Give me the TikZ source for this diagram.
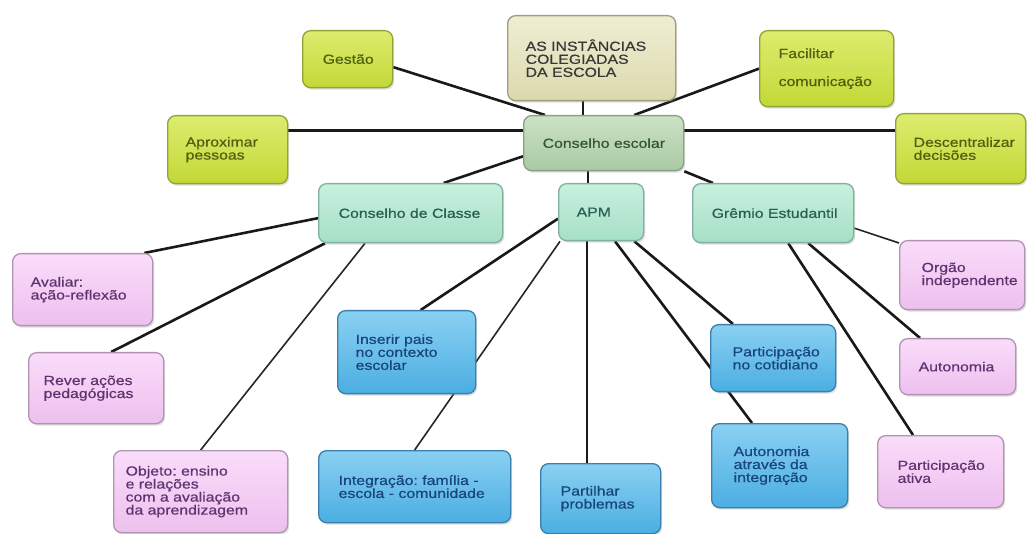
\documentclass[tikz,border=0pt]{standalone}
\usepackage{fontspec}
\setmainfont[FakeStretch=1.2,FakeBold=0.6]{Liberation Sans}
\usetikzlibrary{shadows}
\definecolor{beigeT}{HTML}{EFEED3}
\definecolor{beigeB}{HTML}{DCD9AE}
\definecolor{beigeD}{HTML}{A09E82}
\definecolor{beigeX}{HTML}{383838}
\definecolor{sageT}{HTML}{CCE2C4}
\definecolor{sageB}{HTML}{A9C9A3}
\definecolor{sageD}{HTML}{86A383}
\definecolor{sageX}{HTML}{355535}
\definecolor{limeT}{HTML}{DDEC6E}
\definecolor{limeB}{HTML}{C2D836}
\definecolor{limeD}{HTML}{93A436}
\definecolor{limeX}{HTML}{505F10}
\definecolor{mintT}{HTML}{C8F0DF}
\definecolor{mintB}{HTML}{A6DFC6}
\definecolor{mintD}{HTML}{80B09F}
\definecolor{mintX}{HTML}{285F50}
\definecolor{pinkT}{HTML}{FADCFA}
\definecolor{pinkB}{HTML}{EDC0EE}
\definecolor{pinkD}{HTML}{B094B1}
\definecolor{pinkX}{HTML}{5F3370}
\definecolor{blueT}{HTML}{8AD0F2}
\definecolor{blueB}{HTML}{4BAEE2}
\definecolor{blueD}{HTML}{3A7FAE}
\definecolor{blueX}{HTML}{18457A}
\pgfdeclarelayer{background}
\pgfsetlayers{background,main}
\tikzset{
  box/.style={draw, rounded corners=8pt, line width=1.3pt, anchor=north west,
    align=left, inner ysep=0pt, font=\fontsize{13.2}{13}\selectfont\frenchspacing,
    drop shadow={shadow xshift=1.5pt, shadow yshift=-2pt, opacity=0.25}},
  beigebox/.style={box, top color=beigeT, bottom color=beigeB, draw=beigeD, text=beigeX},
  sagebox/.style={box, top color=sageT, bottom color=sageB, draw=sageD, text=sageX},
  limebox/.style={box, top color=limeT, bottom color=limeB, draw=limeD, text=limeX},
  mintbox/.style={box, top color=mintT, bottom color=mintB, draw=mintD, text=mintX},
  pinkbox/.style={box, top color=pinkT, bottom color=pinkB, draw=pinkD, text=pinkX},
  bluebox/.style={box, top color=blueT, bottom color=blueB, draw=blueD, text=blueX},
  conn/.style={draw=black!90, line width=2.6pt},
  thinconn/.style={draw=black!85, line width=1.6pt}
}
\begin{document}
\begin{tikzpicture}[x=1pt,y=-1pt]
\useasboundingbox (0,0) rectangle (1028,534);
% nodes
\node[beigebox, inner xsep=18pt, text width=132pt, minimum height=85pt] (inst) at (507,15) {\mbox{AS INSTÂNCIAS}\\COLEGIADAS\\\mbox{DA ESCOLA}};
\node[sagebox, inner xsep=19pt, text width=122pt, minimum height=55pt] (ce) at (523,115) {\mbox{Conselho escolar}};
\node[limebox, inner xsep=20pt, text width=50pt, minimum height=57pt] (gestao) at (302,30) {\mbox{Gestão}};
\node[limebox, inner xsep=18pt, text width=84pt, minimum height=68pt] (aprox) at (167,115) {Aproximar\\pessoas};
\node[limebox, inner xsep=19pt, text width=96pt, minimum height=76pt] (facil) at (759,30) {Facilitar\\[15pt]\mbox{comunicação}};
\node[limebox, inner xsep=18pt, text width=94pt, minimum height=70pt] (desc) at (895,113) {\mbox{Descentralizar}\\decisões};
\node[mintbox, inner xsep=20pt, text width=144pt, minimum height=59pt] (cc) at (318,183) {\mbox{Conselho de Classe}};
\node[mintbox, inner xsep=18pt, text width=49pt, minimum height=57pt] (apm) at (558,183) {APM};
\node[mintbox, inner xsep=19pt, text width=123pt, minimum height=59pt] (grem) at (692,183) {\mbox{Grêmio Estudantil}};
\node[pinkbox, inner xsep=18pt, text width=104pt, minimum height=72pt] (aval) at (12,253) {Avaliar:\\\mbox{ação-reflexão}};
\node[pinkbox, inner xsep=15pt, text width=105pt, minimum height=71pt] (rever) at (28,352) {\mbox{Rever ações}\\\mbox{pedagógicas}};
\node[pinkbox, inner xsep=12pt, text width=150pt, minimum height=82pt] (obj) at (113,450) {\mbox{Objeto: ensino}\\\mbox{e relações}\\\mbox{com a avaliação}\\\mbox{da aprendizagem}};
\node[bluebox, inner xsep=18pt, text width=102pt, minimum height=83pt] (inserir) at (337,310) {\mbox{Inserir pais}\\\mbox{no contexto}\\escolar};
\node[bluebox, inner xsep=20pt, text width=152pt, minimum height=72pt] (integ) at (318,450) {\mbox{Integração: família -}\\\mbox{escola - comunidade}};
\node[bluebox, inner xsep=20pt, text width=80pt, minimum height=70pt] (part) at (540,463) {Partilhar\\problemas};
\node[bluebox, inner xsep=22pt, text width=81pt, minimum height=67pt] (pcot) at (710,324) {\mbox{Participação}\\\mbox{no cotidiano}};
\node[bluebox, inner xsep=22pt, text width=92pt, minimum height=84pt] (autint) at (711,423) {Autonomia\\\mbox{através da}\\integração};
\node[pinkbox, inner xsep=22pt, text width=81pt, minimum height=69pt] (org) at (899,240) {Orgão\\\mbox{independente}};
\node[pinkbox, inner xsep=19pt, text width=78pt, minimum height=56pt] (auto) at (899,338) {Autonomia};
\node[pinkbox, inner xsep=20pt, text width=86pt, minimum height=72pt] (pativa) at (877,435) {\mbox{Participação}\\ativa};
% connectors
\begin{pgfonlayer}{background}
\fill[white] (0,0) rectangle (1028,534);
\draw[conn] ([yshift=-8pt]gestao.east) -- ([xshift=22pt]ce.north west);
\draw[conn] ([xshift=76pt]inst.south west) -- ([xshift=60pt]ce.north west);
\draw[conn] ([xshift=-50pt]ce.north east) -- (facil.west);
\draw[conn] ([yshift=19pt]aprox.east) -- ([yshift=12.5pt]ce.west);
\draw[conn] ([yshift=12.5pt]ce.east) -- ([yshift=18pt]desc.west);
\draw[conn] ([yshift=15pt]ce.south west) -- ([xshift=33pt]cc.north);
\draw[conn] ([xshift=65pt]ce.south west) -- ([xshift=30pt]apm.north west);
\draw[conn] (ce.south east) -- ([xshift=21pt]grem.north west);
\draw[conn] ([yshift=-5pt]cc.west) -- ([xshift=-9pt]aval.north east);
\draw[conn] ([xshift=7pt]cc.south west) -- ([xshift=15pt]rever.north);
\draw[thinconn] ([xshift=47pt]cc.south west) -- (obj.north);
\draw[conn] ([yshift=-6.5pt]apm.west) -- ([xshift=14pt]inserir.north);
\draw[thinconn] ([xshift=2pt]apm.south west) -- (integ.north);
\draw[conn] ([xshift=29pt]apm.south west) -- ([xshift=47pt]part.north west);
\draw[conn] ([xshift=-10pt]apm.south east) -- ([xshift=23pt]pcot.north west);
\draw[conn] ([xshift=57pt]apm.south west) -- ([xshift=41pt]autint.north west);
\draw[thinconn] ([yshift=-15pt]grem.east) -- ([yshift=-3pt]org.north west);
\draw[conn] ([xshift=-46pt]grem.south east) -- ([xshift=21pt]auto.north west);
\draw[conn] ([xshift=-66pt]grem.south east) -- ([xshift=36pt]pativa.north west);
\end{pgfonlayer}
\end{tikzpicture}
\end{document}
